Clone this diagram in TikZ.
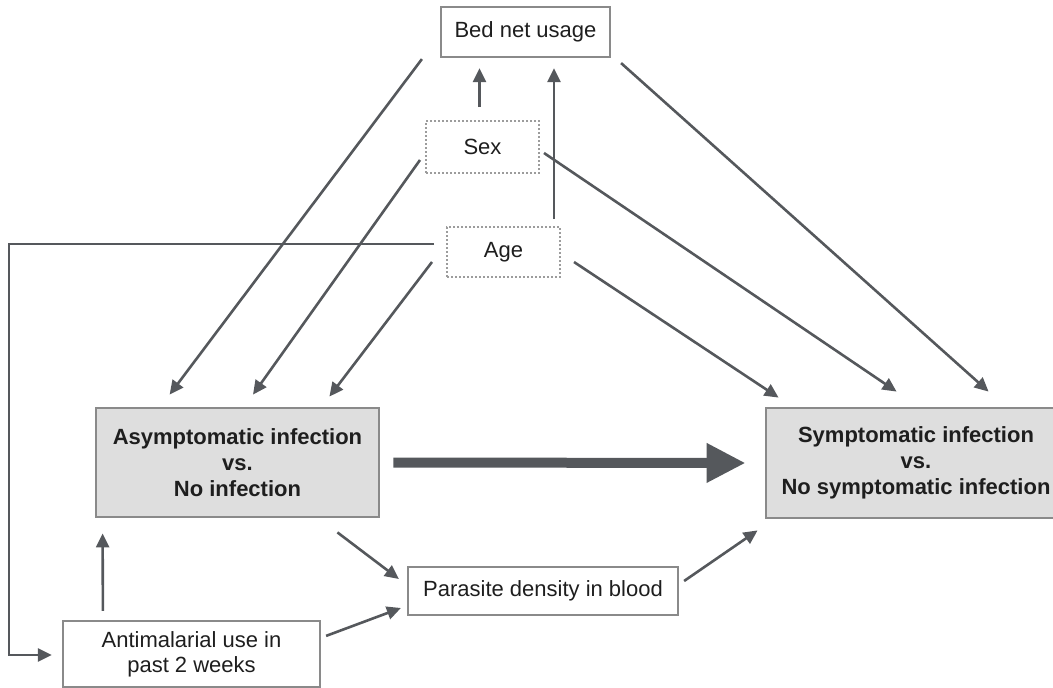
\documentclass[tikz,border=0pt]{standalone}
\usepackage{fontspec}
\setmainfont{Liberation Sans}
\usetikzlibrary{arrows.meta,calc}
\definecolor{arrowgray}{RGB}{85,88,92}
\definecolor{framegray}{RGB}{138,138,138}
\definecolor{boxfill}{RGB}{222,222,222}
\definecolor{inkgray}{RGB}{30,30,30}
\begin{document}
\begin{tikzpicture}[x=1pt,y=-1pt,
  font=\fontsize{22}{25}\selectfont,text=inkgray,
  box/.style={draw=framegray,line width=2.2pt,inner sep=0pt,align=center},
  outcome/.style={box,fill=boxfill,line width=2.8pt,font=\fontsize{22}{26}\selectfont\bfseries},
  dotbox/.style={draw=framegray!85,line width=2pt,dash pattern=on 2pt off 2pt,inner sep=0pt},
  arr/.style={draw=arrowgray,line width=2.6pt,-{Triangle[length=14pt,width=13pt]}},
  bigarr/.style={draw=arrowgray,line width=10pt,-{Triangle[length=39pt,width=37pt]}}]
 \useasboundingbox (0,0) rectangle (1053,688);
 \clip (0,0) rectangle (1053,688);
 % boxes
 \node[box,minimum width=169pt,minimum height=50pt] (bed) at (525.5,32) {Bed net usage};
 \node[dotbox,minimum width=113pt,minimum height=52pt] (sex) at (482.5,147) {Sex};
 \node[dotbox,minimum width=113pt,minimum height=50pt] (age) at (503.5,252) {Age};
 \node[outcome,minimum width=283pt,minimum height=109pt] (asym) at (237.5,462.5)
   {Asymptomatic infection\\vs.\\No infection};
 \node[outcome,minimum width=300pt,minimum height=110pt] (sym) at (916,463)
   {Symptomatic infection\\vs.\\No symptomatic infection};
 \node[box,minimum width=270pt,minimum height=48pt] (para) at (543,591) {Parasite density in blood};
 \node[box,minimum width=257pt,minimum height=66pt] (anti) at (191.5,654)
   {Antimalarial use in\\past 2 weeks};
 % confounders
 \draw[arr] ($(bed.south west)+(-18,1)$) -- ($(asym.north west)+(75,-12)$);
 \draw[arr] ($(bed.south east)+(10,5)$) -- ($(sym.north west)+(224,-15)$);
 \draw[arr] ($(sex.north)+(-3,-13)$) -- ($(sex.north |- bed.south)+(-3,10)$);
 \draw[arr] ($(age.north east)+(-7,-7)$) -- ($(age.north east |- bed.south)+(-7,10)$);
 \draw[arr] ($(sex.west)+(-5,13)$) -- ($(asym.north)+(15.5,-12)$);
 \draw[arr] ($(sex.east)+(4,6)$) -- ($(sym.north west)+(132,-15)$);
 \draw[arr] ($(age.west)+(-14,10)$) -- ($(asym.north east)+(-51,-10)$);
 \draw[arr] ($(age.east)+(13,10)$) -- ($(sym.north west)+(14,-9)$);
 \draw[arr] ($(age.west)+(-12,-8)$) -| ($(anti.west)+(-53,1)$) -- ($(anti.west)+(-10,1)$);
 % main effect
 \draw[bigarr] ($(asym.east)+(13,0)$) -- ($(sym.west)+(-19,0)$);
 % mediator
 \draw[arr] ($(asym.south east)+(-43,14)$) -- ($(para.west)+(-8,-12)$);
 \draw[arr] ($(anti.north east)+(5,16)$) -- ($(para.west)+(-6,17)$);
 \draw[arr] ($(anti.north west)+(41,-9)$) -- ($(asym.south west)+(8,15)$);
 \draw[arr] ($(para.east)+(5,-10)$) -- ($(sym.south west)+(-7,11)$);
\end{tikzpicture}
\end{document}
